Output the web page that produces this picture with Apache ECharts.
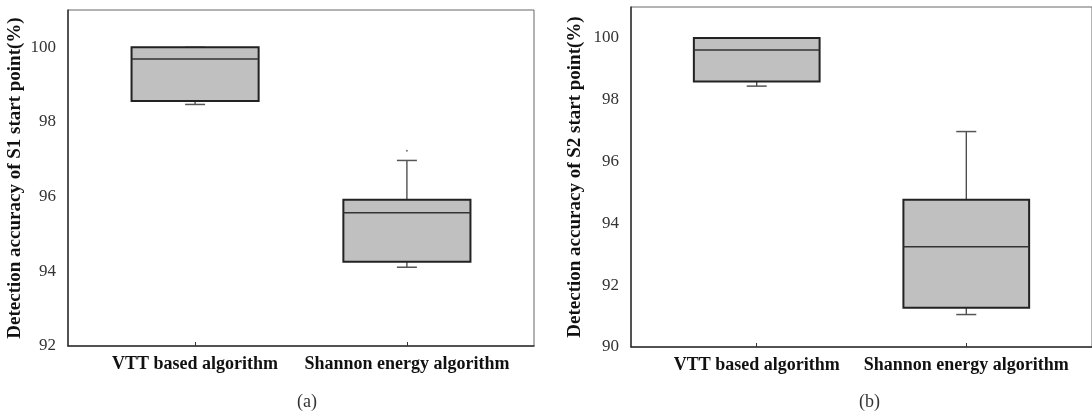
<!DOCTYPE html>
<html>
<head>
<meta charset="utf-8">
<script src="https://cdn.jsdelivr.net/npm/echarts@6/dist/echarts.min.js"></script>
<style>
  html, body { margin: 0; padding: 0; background: #fff; }
  #chart { width: 1092px; height: 412px; }
</style>
</head>
<body>
<div id="chart"></div>
<script>
// data: [min, q1, median, q3, max]
const categories = ['VTT based algorithm', 'Shannon energy algorithm']
const s1Vtt = [98.47, 98.56, 99.69, 100, 100]
const s1Shannon = [94.11, 94.26, 95.57, 95.92, 96.97]
const s1Outliers = [[2, 97.23]]
const s2Vtt = [98.44, 98.59, 99.61, 100, 100]
const s2Shannon = [91.05, 91.27, 93.24, 94.76, 96.97]
const yTicksA = [92, 94, 96, 98, 100]
const yTicksB = [90, 92, 94, 96, 98, 100]

const serif = "'Liberation Serif', 'Times New Roman', serif"

// box drawn through the axes of the grid
function renderBox (params, api) {
  const x = api.value(0)
  const p = [1, 2, 3, 4, 5].map(i => api.coord([x, api.value(i)]))
  const cx = p[0][0]
  const hw = api.size([0.6, 0])[0] / 2
  const cw = 10
  const thin = { stroke: '#333', lineWidth: 1.2 }
  const capStyle = { stroke: '#555', lineWidth: 1.5 }
  return {
    type: 'group',
    children: [
      { type: 'line', shape: { x1: cx, y1: p[0][1], x2: cx, y2: p[1][1] }, style: thin },
      { type: 'line', shape: { x1: cx, y1: p[3][1], x2: cx, y2: p[4][1] }, style: thin },
      { type: 'line', shape: { x1: cx - cw, y1: p[0][1], x2: cx + cw, y2: p[0][1] }, style: capStyle },
      { type: 'line', shape: { x1: cx - cw, y1: p[4][1], x2: cx + cw, y2: p[4][1] }, style: capStyle },
      {
        type: 'rect',
        shape: { x: cx - hw, y: p[3][1], width: hw * 2, height: p[1][1] - p[3][1] },
        style: { fill: '#c0c0c0', stroke: '#222', lineWidth: 2 }
      },
      { type: 'line', shape: { x1: cx - hw, y1: p[2][1], x2: cx + hw, y2: p[2][1] }, style: { stroke: '#333', lineWidth: 1.5 } }
    ]
  }
}

function xAxis (gridIndex) {
  return {
    type: 'value',
    gridIndex: gridIndex,
    min: 0.4,
    max: 2.6,
    axisLine: { lineStyle: { color: '#333', width: 1.5 } },
    axisTick: { show: true, inside: true, length: 4, customValues: [1, 2], lineStyle: { color: '#333' } },
    axisLabel: {
      customValues: [1, 2],
      formatter: v => categories[Math.round(v) - 1] || '',
      margin: 9,
      fontFamily: serif,
      fontWeight: 'bold',
      fontSize: 18,
      color: '#111'
    },
    splitLine: { show: false }
  }
}

function yAxis (gridIndex, ticks, name, gap) {
  return {
    type: 'value',
    gridIndex: gridIndex,
    min: ticks[0],
    max: 101,
    interval: 2,
    name: name,
    nameLocation: 'middle',
    nameGap: gap,
    nameTextStyle: { fontFamily: serif, fontWeight: 'bold', fontSize: 19, color: '#111' },
    axisLine: { show: true, lineStyle: { color: '#333', width: 1.5 } },
    axisTick: { show: false },
    axisLabel: {
      showMaxLabel: false,
      margin: 12,
      fontFamily: serif,
      fontSize: 17,
      color: '#333'
    },
    splitLine: { show: false }
  }
}

const chart = echarts.init(document.getElementById('chart'))
chart.setOption({
  animation: false,
  backgroundColor: '#fff',
  title: [
    { text: '(a)', left: 292, top: 388, textStyle: { fontFamily: serif, fontWeight: 'normal', fontSize: 18, color: '#333' } },
    { text: '(b)', left: 854, top: 388, textStyle: { fontFamily: serif, fontWeight: 'normal', fontSize: 18, color: '#333' } }
  ],
  grid: [
    { left: 68, top: 10, width: 466, height: 336, show: true, borderColor: '#666', borderWidth: 1 },
    { left: 631, top: 7, width: 464, height: 340, show: true, borderColor: '#666', borderWidth: 1 }
  ],
  xAxis: [xAxis(0), xAxis(1)],
  yAxis: [
    yAxis(0, yTicksA, 'Detection accuracy of S1 start point(%)', 43),
    yAxis(1, yTicksB, 'Detection accuracy of S2 start point(%)', 46)
  ],
  series: [
    {
      type: 'custom',
      xAxisIndex: 0,
      yAxisIndex: 0,
      renderItem: renderBox,
      data: [[1].concat(s1Vtt), [2].concat(s1Shannon)]
    },
    {
      type: 'scatter',
      xAxisIndex: 0,
      yAxisIndex: 0,
      symbolSize: 2,
      itemStyle: { color: '#555' },
      data: s1Outliers
    },
    {
      type: 'custom',
      xAxisIndex: 1,
      yAxisIndex: 1,
      renderItem: renderBox,
      data: [[1].concat(s2Vtt), [2].concat(s2Shannon)]
    }
  ]
})
</script>
</body>
</html>
